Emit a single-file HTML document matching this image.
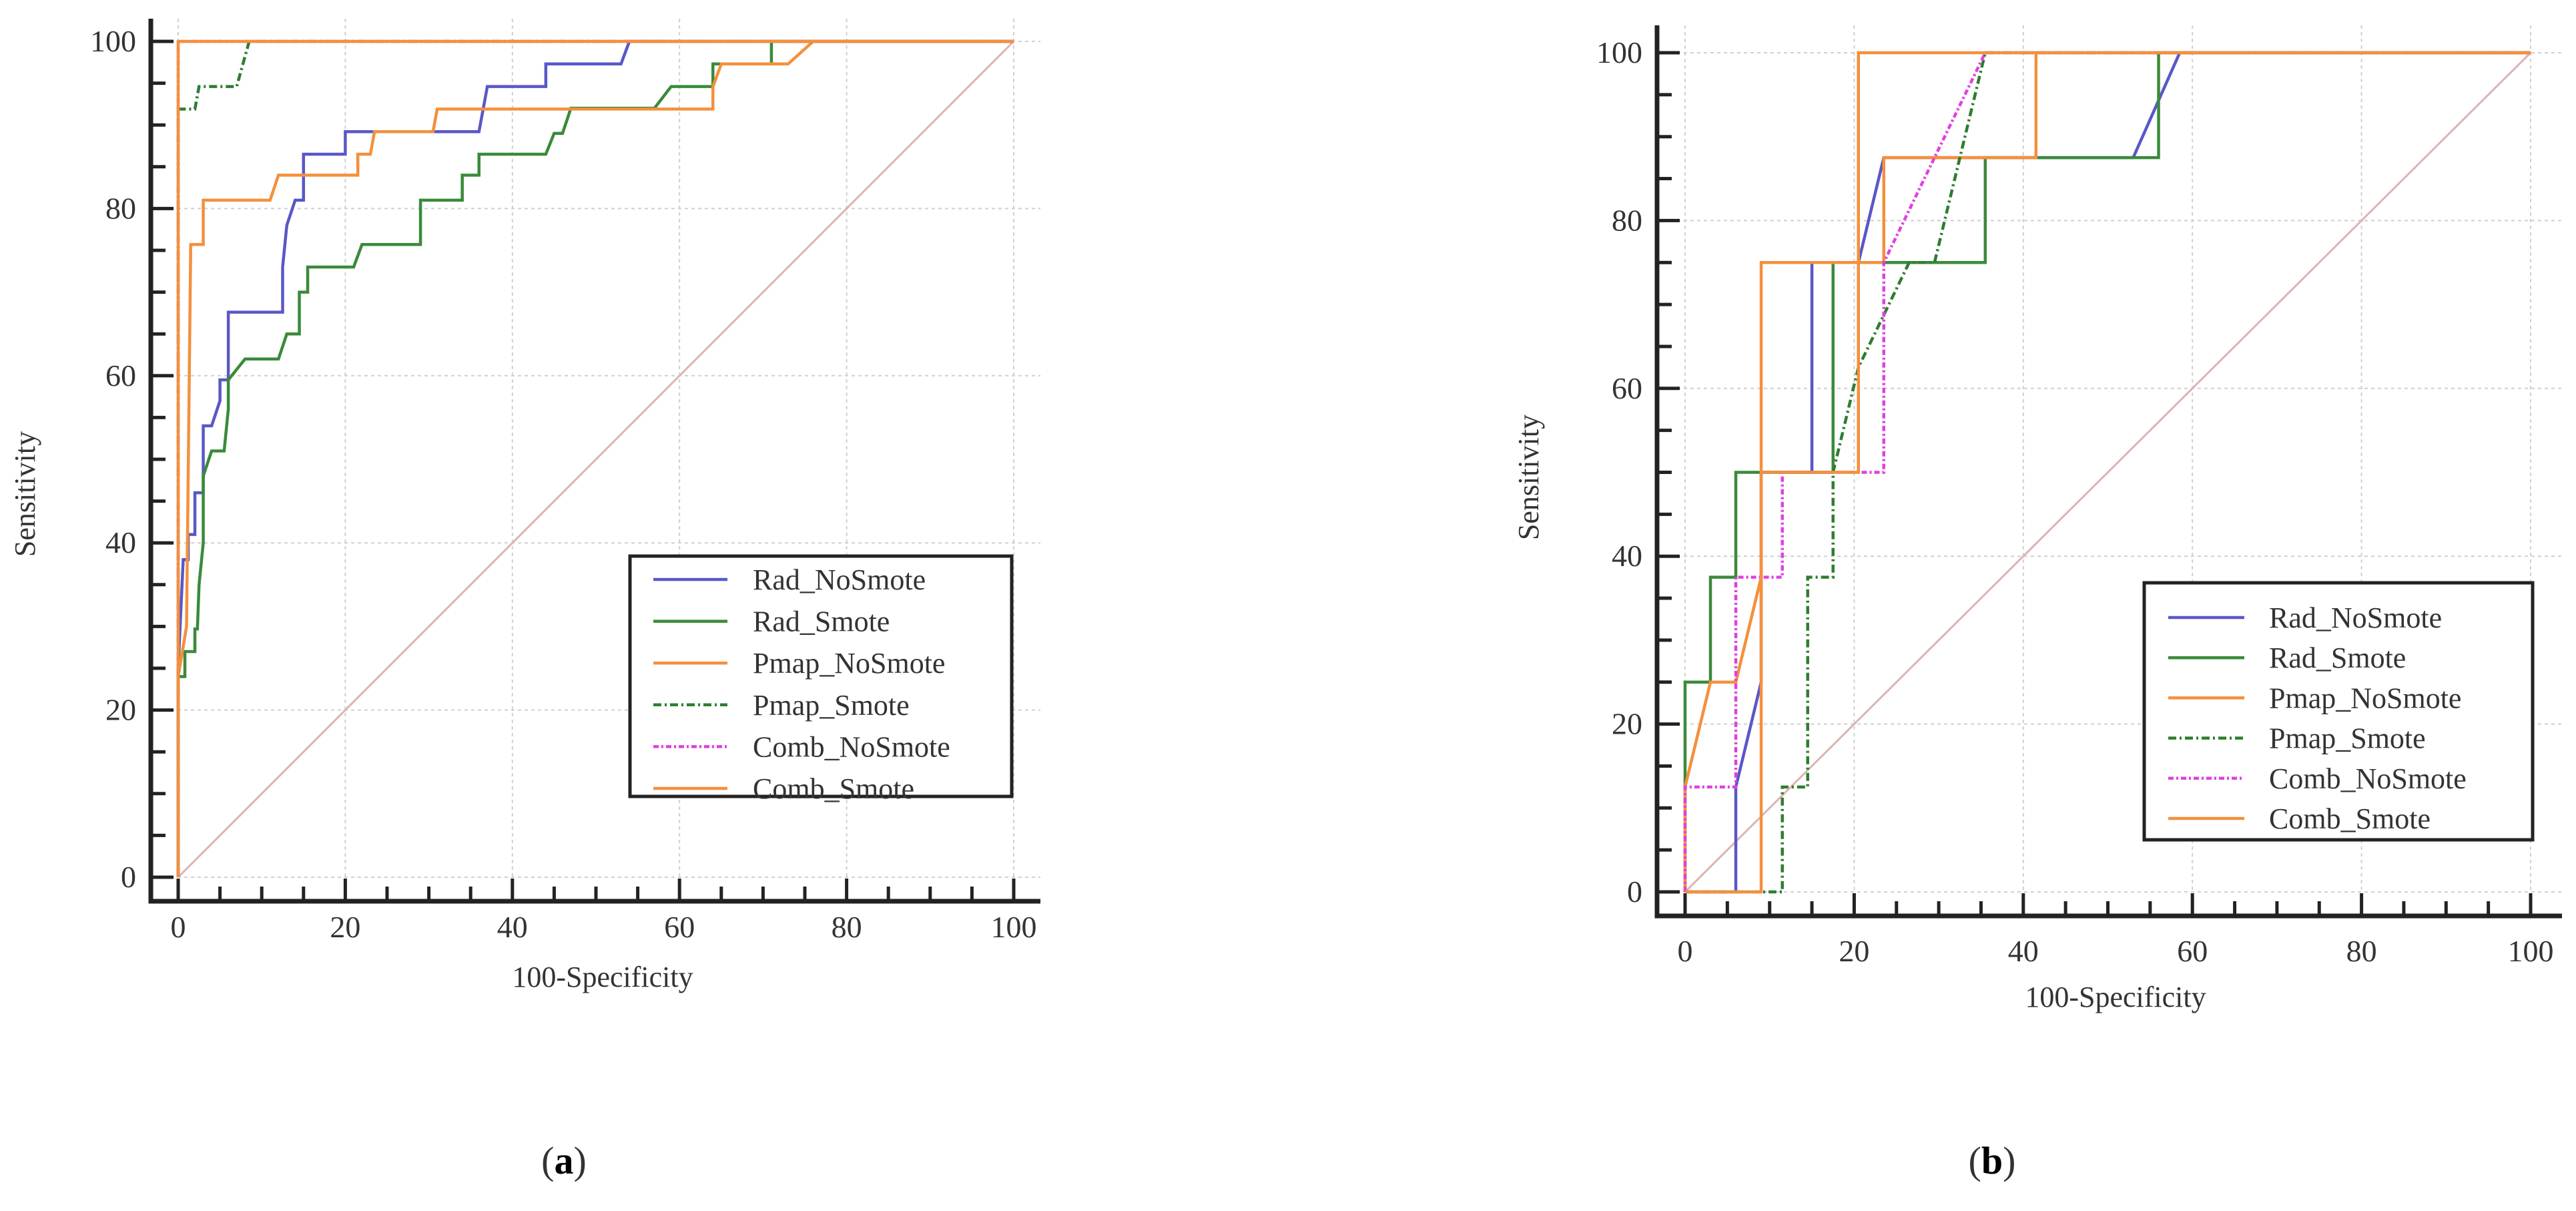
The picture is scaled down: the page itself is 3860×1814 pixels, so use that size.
<!DOCTYPE html>
<html><head><meta charset="utf-8"><style>
html,body{margin:0;padding:0;background:#fff;width:3860px;height:1814px;overflow:hidden}
svg{display:block}
text{font-family:"Liberation Serif",serif;fill:#333}
</style></head><body>
<svg id="svg" width="3860" height="1814" viewBox="0 0 3860 1814"></svg>
<script>
const legendNames = ["Rad_NoSmote","Rad_Smote","Pmap_NoSmote","Pmap_Smote","Comb_NoSmote","Comb_Smote"];
const seriesColors = ["#5858c8","#3a8a3a","#f4903c","#2f7d2f","#e040e0","#f4903c"];
const seriesDash = ["","","","12 5 3 5","8 4 3 4",""];
const tickLabels = [0,20,40,60,80,100];
// Panel (a)
const aRadNo = [[0,0],[0,25],[0.6,38],[1.2,38],[1.2,41],[2,41],[2,46],[3,46],[3,54],[4,54],[5,57],[5,59.5],[6,59.5],[6,67.6],[12.5,67.6],[12.5,73],[13,78],[14,81],[15,81],[15,86.5],[20,86.5],[20,89.2],[36,89.2],[37,94.6],[44,94.6],[44,97.3],[53,97.3],[54,100],[100,100]];
const aRadSm = [[0,0],[0,24],[0.8,24],[0.8,27],[2,27],[2,29.7],[2.3,29.7],[2.5,35],[3,40],[3,48],[4,51],[5.5,51],[6,56],[6,59.5],[8,62],[12,62],[13,65],[14.5,65],[14.5,70],[15.5,70],[15.5,73],[21,73],[22,75.7],[29,75.7],[29,81],[34,81],[34,84],[36,84],[36,86.5],[44,86.5],[45,89],[46,89],[47,92],[57,92],[59,94.6],[64,94.6],[64,97.3],[71,97.3],[71,100],[100,100]];
const aPmapNo = [[0,0],[0,24],[1,30],[1.5,75.7],[3,75.7],[3,81],[11,81],[12,84],[21.5,84],[21.5,86.5],[23,86.5],[23.5,89.2],[30.5,89.2],[31,91.9],[64,91.9],[64,94.6],[65,97.3],[73,97.3],[76,100],[100,100]];
const aPmapSm = [[0,0],[0,91.9],[2,91.9],[2.5,94.6],[7,94.6],[8.5,100],[100,100]];
const aCombNo = [[0,0],[0,100],[100,100]];
const aCombSm = [[0,0],[0,100],[100,100]];
// Panel (b)
const bRadNo = [[0,0],[6,0],[6,12.5],[9,25],[9,50],[15,50],[15,75],[20.5,75],[23.5,87.5],[53,87.5],[58.5,100],[100,100]];
const bRadSm = [[0,0],[0,25],[3,25],[3,37.5],[6,37.5],[6,50],[17.5,50],[17.5,75],[35.5,75],[35.5,87.5],[56,87.5],[56,100],[100,100]];
const bPmapNo = [[0,0],[0,12.5],[3,25],[6,25],[9,37.5],[9,75],[23.5,75],[23.5,87.5],[41.5,87.5],[41.5,100],[100,100]];
const bPmapSm = [[0,0],[11.5,0],[11.5,12.5],[14.5,12.5],[14.5,37.5],[17.5,37.5],[17.5,50],[20.5,62.5],[26.5,75],[29.5,75],[35.5,100],[100,100]];
const bCombNo = [[0,0],[0,12.5],[6,12.5],[6,37.5],[11.5,37.5],[11.5,50],[23.5,50],[23.5,75],[35.5,100],[100,100]];
const bCombSm = [[0,0],[9,0],[9,50],[20.5,50],[20.5,100],[100,100]];

const NS="http://www.w3.org/2000/svg";
const svg=document.getElementById('svg');
function mk(tag,attrs,parent){const e=document.createElementNS(NS,tag);for(const k in attrs)e.setAttribute(k,attrs[k]);(parent||svg).appendChild(e);return e;}

function panel(P, series, id){
  const g=mk('g',{});
  
  
  const sx=v=>P.x0+(P.x1-P.x0)*v/100, sy=v=>P.y0+(P.y1-P.y0)*v/100;
  tickLabels.forEach(t=>{
    const gl=mk('line',{x1:sx(t),x2:sx(t),y1:P.top,y2:P.axB,stroke:'#cfcfcf','stroke-width':2,'stroke-dasharray':'5 5'},g);
    
    
    const gh=mk('line',{x1:P.axL,x2:P.right,y1:sy(t),y2:sy(t),stroke:'#cfcfcf','stroke-width':2,'stroke-dasharray':'5 5'},g);
    
    
  });
  const d=mk('line',{x1:sx(0),y1:sy(0),x2:sx(100),y2:sy(100),stroke:'#dcb4b4','stroke-width':3},g);
  
  
  for(let t=0;t<=100;t+=5){
    const maj=t%20===0;
    mk('line',{x1:sx(t),x2:sx(t),y1:P.axB,y2:P.axB-(maj?34:22),stroke:'#222','stroke-width':5},g);
    mk('line',{x1:P.axL,x2:P.axL+(maj?34:22),y1:sy(t),y2:sy(t),stroke:'#222','stroke-width':5},g);
  }
  const ax=mk('path',{d:`M${P.axL},${P.top} V${P.axB} H${P.right}`,fill:'none',stroke:'#222','stroke-width':7},g);
  
  
  tickLabels.forEach(t=>{
    const tx=mk('text',{x:sx(t),y:P.xlabY,'font-size':46,'text-anchor':'middle'},g);tx.textContent=t;
    
    
    const ty=mk('text',{x:P.axL-22,y:sy(t)+15,'font-size':46,'text-anchor':'end'},g);ty.textContent=t;
    
    
  });
  const xt=mk('text',{x:P.xtX,y:P.xtY,'font-size':44,'text-anchor':'middle'},g);xt.textContent='100-Specificity';
  
  
  const yt=mk('text',{x:0,y:0,'font-size':44,'text-anchor':'middle',transform:`translate(${P.ytX},${P.ytY}) rotate(-90)`},g);yt.textContent='Sensitivity';
  
  
  series.forEach((s,i)=>{
    const p=mk('polyline',{points:s.map(q=>sx(q[0])+','+sy(q[1])).join(' '),fill:'none',stroke:seriesColors[i],'stroke-width':4.5,'stroke-dasharray':seriesDash[i]||'none'},g);
    
    
  });
  const lg=mk('g',{},g);
  
  
  mk('rect',{x:P.lg.x,y:P.lg.y,width:P.lg.w,height:P.lg.h,fill:'#fff',stroke:'#222','stroke-width':5},lg);
  legendNames.forEach((n,i)=>{
    const y=P.lg.e0+i*P.lg.de;
    const e=mk('g',{},lg);
    
    
    mk('line',{x1:P.lg.l1,x2:P.lg.l2,y1:y,y2:y,stroke:seriesColors[i],'stroke-width':4.5,'stroke-dasharray':seriesDash[i]||'none'},e);
    const t=mk('text',{x:P.lg.tx,y:y+15,'font-size':44},e);t.textContent=n;
  });
}
panel({x0:267,x1:1519,y0:1314,y1:62,axL:226,top:28,axB:1350,right:1559,xlabY:1404,xtX:903,xtY:1478,ytX:52,ytY:740,
  lg:{x:944,y:833,w:572,h:360,e0:868,de:62.6,l1:979,l2:1090,tx:1128}},
  [aRadNo,aRadSm,aPmapNo,aPmapSm,aCombNo,aCombSm],'panel-a');
panel({x0:2525,x1:3792,y0:1336,y1:79,axL:2483,top:38,axB:1372,right:3839,xlabY:1440,xtX:3170,xtY:1508,ytX:2305,ytY:715,
  lg:{x:3213,y:873,w:582,h:385,e0:925,de:60.2,l1:3249,l2:3363,tx:3400}},
  [bRadNo,bRadSm,bPmapNo,bPmapSm,bCombNo,bCombSm],'panel-b');
[['(a)',845],['(b)',2985]].forEach(c=>{
  const t=mk('text',{x:c[1],y:1758,'font-size':58,'text-anchor':'middle'});
  
  
  t.innerHTML='(<tspan font-weight="bold" style="fill:#000">'+c[0][1]+'</tspan>)';
});
</script>
</body></html>
